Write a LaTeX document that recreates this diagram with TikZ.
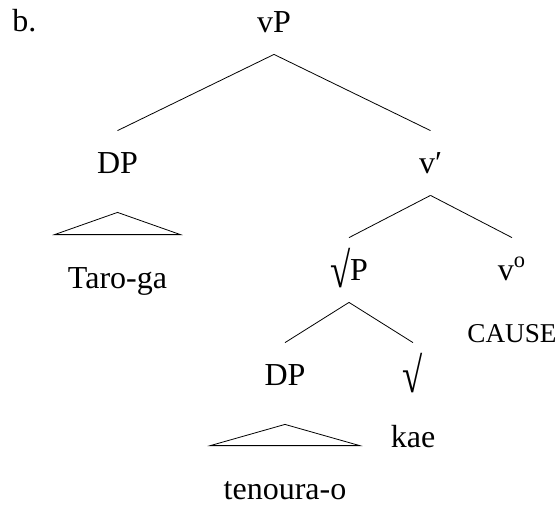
\documentclass[tikz,border=0pt]{standalone}
\usepackage{fontspec}
\usepackage{graphicx}
\setmainfont{Liberation Serif}
\newcommand{\rtsym}{\raisebox{-3.5pt}{\scalebox{1.15}[1.55]{√}}}

\begin{document}
\begin{tikzpicture}[edge from parent path={(\tikzparentnode.south) -- (\tikzchildnode.north)}]
    \tikzstyle{every node}=[inner xsep=0pt, inner ysep=11pt, text height=10pt, text depth=0pt, font=\fontsize{16}{19}\selectfont]
    \tikzstyle{level 1}=[level distance=70.5pt, sibling distance=156.5pt]
    \tikzstyle{level 2}=[level distance=53.5pt, sibling distance=81.5pt]
    \tikzstyle{level 3}=[level distance=52.5pt, sibling distance=64pt]
    \tikzstyle{level 4}=[level distance=57pt]
    \tikzstyle{roof}=[edge from parent path={([yshift=-8.5pt]\tikzparentnode.south) -- ([xshift=-6.5pt,yshift=5.5pt]\tikzchildnode.north west) -- ([xshift=6.5pt,yshift=5.5pt]\tikzchildnode.north east) -- cycle}]

    \useasboundingbox (0,0) rectangle (278pt,-252.5pt);

% The tree for the causative vP with its two roofed DPs.

    \node (b) [anchor=base west] at (6pt,-15.5pt) {b.};
    \node (vp) at (137pt,-11pt) {vP}
        child {node (dpa) {DP}
            child[roof, level distance=57.5pt] {node (taro) {Taro-ga}}}
        child {node (vbar) {v′}
            child {node (rootp) {\rtsym P}
                child {node (dpb) {DP}
                    child[roof] {node (tenoura) {tenoura-o}}}
                child {node (root) {\rtsym}
                    child[level distance=31pt] {node (kae) {kae} edge from parent[draw=none]}}}
            child {node (vhead) {v\textsuperscript{o}}
                child[level distance=31pt] {node (cause) [font=\fontsize{13.6}{16}\selectfont] {CAUSE} edge from parent[draw=none]}}};

\end{tikzpicture}
\end{document}
